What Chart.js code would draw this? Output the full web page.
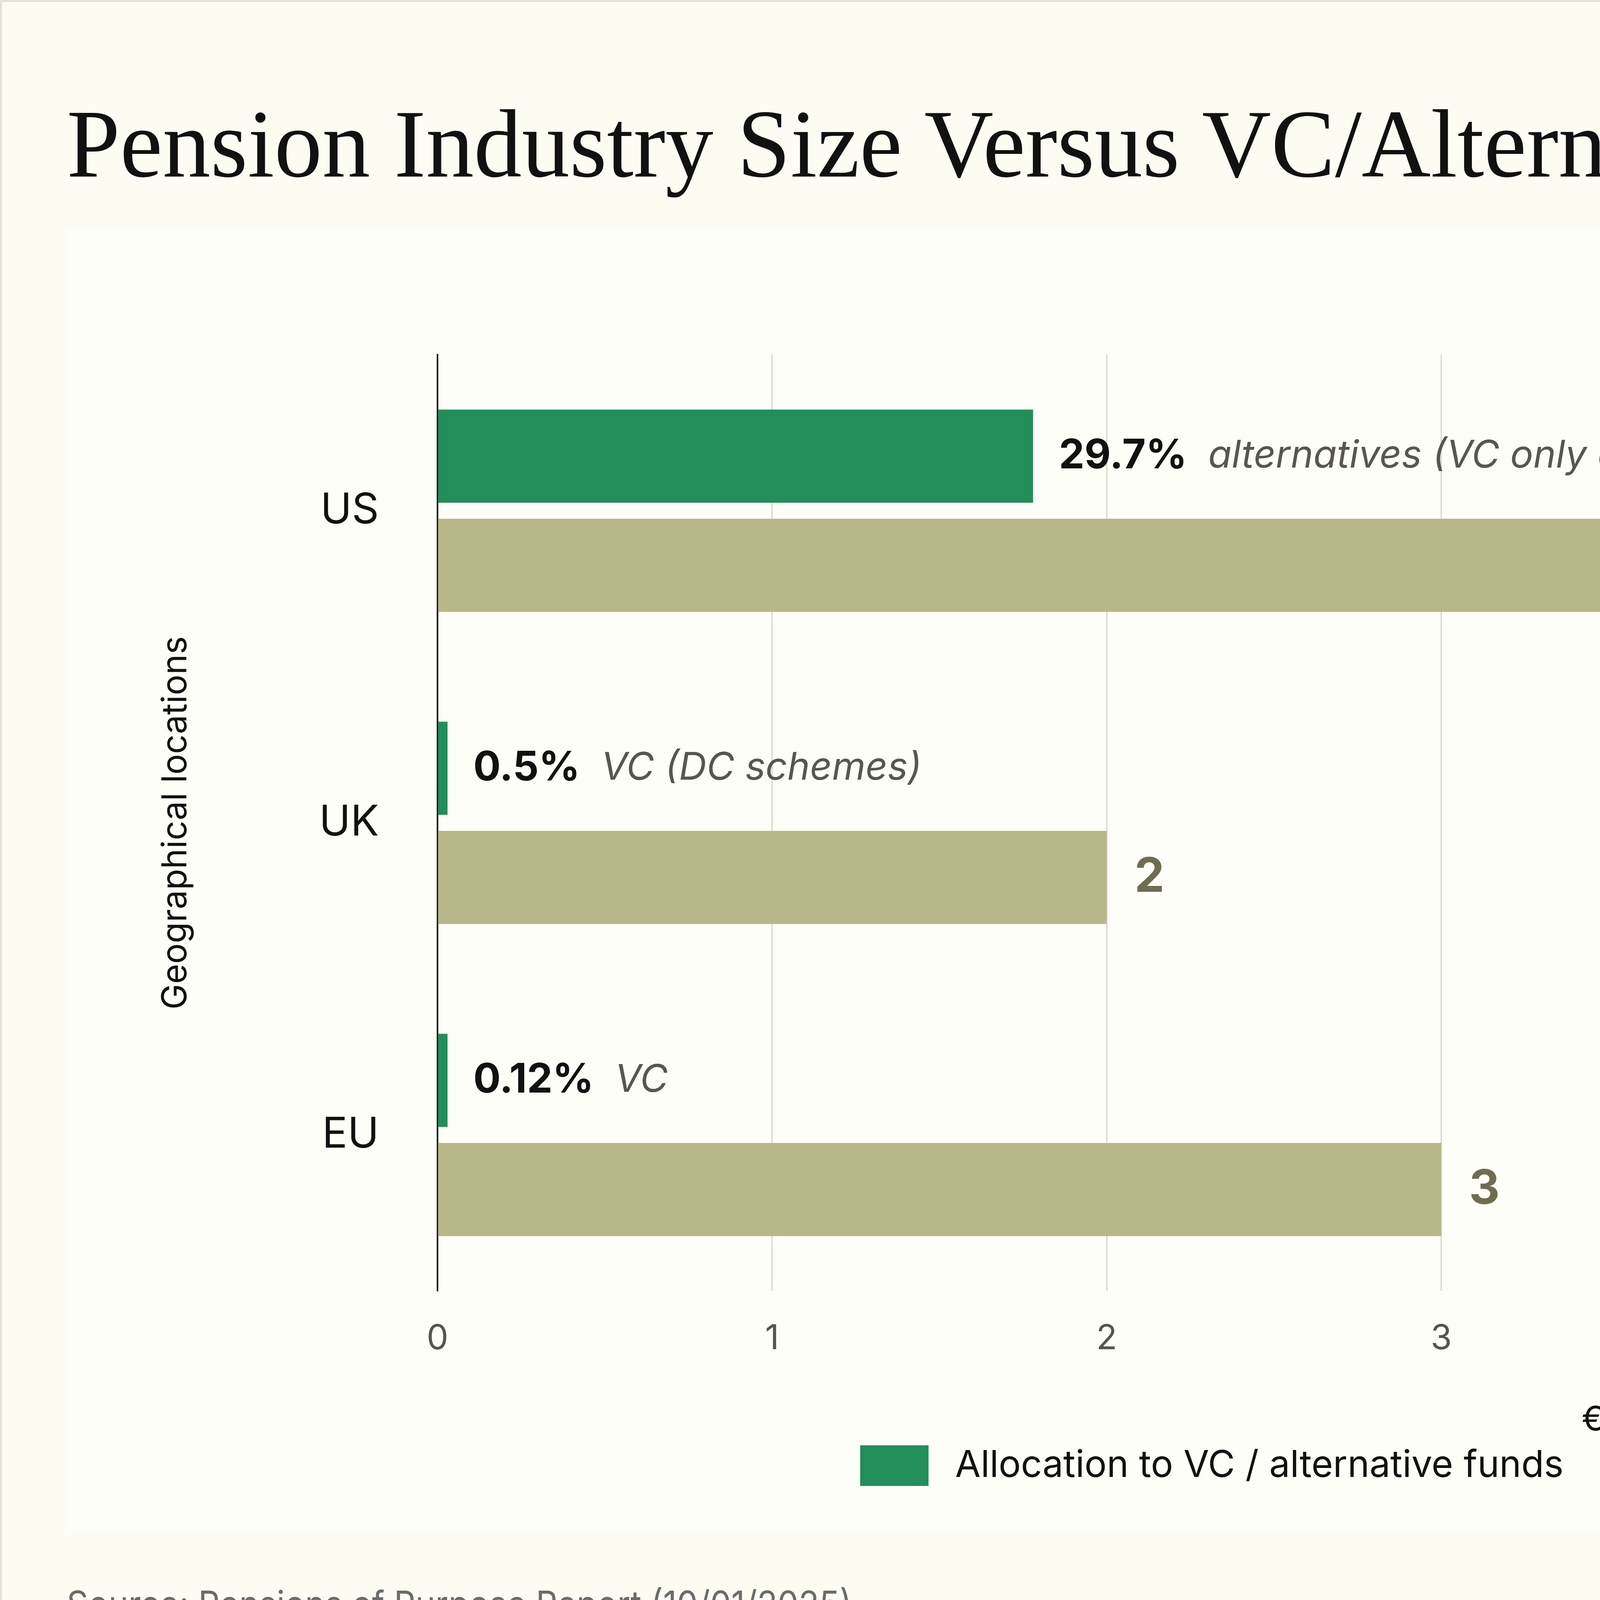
<!DOCTYPE html>
<html>
<head>
<meta charset="utf-8">
<script src="https://cdn.jsdelivr.net/npm/chart.js@4.4.1/dist/chart.umd.min.js"></script>
<style>
  html, body { margin: 0; padding: 0; background: #FCFCF3; }
  #wrap { position: relative; width: 7680px; height: 4320px; overflow: hidden; background: #FCFCF3; }
  #panel { position: absolute; left: 171px; top: 585px; width: 7353px; height: 3333px; background: #FEFEF8; }
  #frame { position: absolute; left: 0; top: 0; width: 7680px; height: 4320px; box-sizing: border-box; border: 5px solid #E3E3D8; pointer-events: none; }
  canvas { position: absolute; left: 0; top: 0; }
  .txt { position: absolute; top: 0; white-space: nowrap; line-height: 1; transform-origin: 0 0; }
  .bl { display: inline-block; width: 0; height: 0; }
  #title { left: 171px; font-family: 'Liberation Serif', serif; font-size: 248px; color: #111; }
  #source { left: 171px; font-family: 'Inter', sans-serif; font-size: 94px; color: #6B6B6B; }
  #brand { left: 7118px; font-family: 'Liberation Serif', serif; font-size: 160px; color: #111; }
</style>
</head>
<body>
<div id="wrap">
  <div id="panel"></div>
  <canvas id="chart" width="7680" height="4320"></canvas>
  <div id="title" class="txt">Pension Industry Size Versus VC/Alternative Allocation<span class="bl"></span></div>
  <div id="source" class="txt">Source: Pensions of Purpose Report (10/01/2025)<span class="bl"></span></div>
  <div id="brand" class="txt">Murph<span class="bl"></span></div>
  <div id="frame"></div>
</div>
<script>
// ---- data ----
const categories = ['US', 'UK', 'EU'];
const seriesNames = ['Allocation to VC / alternative funds', 'Market size'];
const allocationValues = [1.78, 0.03, 0.03];
const marketSizeValues = [6, 2, 3];
const allocationShares = ['29.7%', '0.5%', '0.12%'];
const allocationNotes = ['alternatives (VC only a proportion of this total)', 'VC (DC schemes)', 'VC'];
const marketLabels = ['6', '2', '3'];
const xTickValues = [0, 1, 2, 3, 4, 5, 6, 7];
const xAxisTitle = '€tn';
const yAxisTitle = 'Geographical locations';

const GREEN = '#228E5A';
const OLIVE = '#B8B78A';

function placeText(id, baseline, targetWidth) {
  const el = document.getElementById(id);
  const mark = el.querySelector('.bl');
  const r0 = el.getBoundingClientRect();
  const rb = mark.getBoundingClientRect();
  const off = rb.top - r0.top;
  el.style.top = (baseline - off) + 'px';
  if (targetWidth) {
    const w = el.scrollWidth;
    el.style.transform = 'scaleX(' + (targetWidth / w) + ')';
  }
}

const labelsPlugin = {
  id: 'barLabels',
  afterDatasetsDraw(chart) {
    const ctx = chart.ctx;
    const m0 = chart.getDatasetMeta(0);
    const m1 = chart.getDatasetMeta(1);
    ctx.save();
    ctx.textBaseline = 'middle';
    ctx.textAlign = 'left';
    m0.data.forEach((bar, i) => {
      let x = bar.x + 66;
      ctx.font = '700 104px Inter';
      ctx.fillStyle = '#111111';
      ctx.fillText(allocationShares[i], x, bar.y);
      x += ctx.measureText(allocationShares[i]).width + 54;
      ctx.font = 'italic 400 98px Inter';
      ctx.fillStyle = '#57574F';
      ctx.fillText(allocationNotes[i], x, bar.y);
    });
    m1.data.forEach((bar, i) => {
      ctx.font = '700 122px Inter';
      ctx.fillStyle = '#6E6D51';
      ctx.fillText(marketLabels[i], bar.x + 71, bar.y);
    });
    ctx.restore();
  }
};

const legendPlugin = {
  id: 'customLegend',
  afterDraw(chart) {
    const ctx = chart.ctx;
    const items = chart.data.datasets.map(d => ({ text: d.label, color: d.backgroundColor }));
    const boxW = 175, boxH = 104, textGap = 68, itemGap = 653;
    ctx.save();
    ctx.font = '400 95px Inter';
    const widths = items.map(it => boxW + textGap + ctx.measureText(it.text).width);
    const total = widths.reduce((a, b) => a + b, 0) + itemGap * (items.length - 1);
    let x = chart.width / 2 - total / 2 - 30;
    const cy = chart.scales.x.bottom + 64;
    ctx.textBaseline = 'middle';
    ctx.textAlign = 'left';
    items.forEach((it, i) => {
      ctx.fillStyle = it.color;
      ctx.fillRect(x, cy - boxH / 2, boxW, boxH);
      ctx.fillStyle = '#111111';
      ctx.fillText(it.text, x + boxW + textGap, cy);
      x += widths[i] + itemGap;
    });
    ctx.restore();
  }
};

function build() {
  placeText('title', 452, 5500);
  placeText('source', 4140, 2010);
  placeText('brand', 4155, 406);

  const ctx = document.getElementById('chart').getContext('2d');
  new Chart(ctx, {
    type: 'bar',
    data: {
      labels: categories,
      datasets: [
        { label: seriesNames[0], data: allocationValues, backgroundColor: GREEN, categoryPercentage: 0.70, barPercentage: 0.853 },
        { label: seriesNames[1], data: marketSizeValues, backgroundColor: OLIVE, categoryPercentage: 0.70, barPercentage: 0.853 }
      ]
    },
    options: {
      indexAxis: 'y',
      responsive: false,
      animation: false,
      devicePixelRatio: 1,
      layout: { padding: { top: 908, right: 564, bottom: 632, left: 0 } },
      plugins: { legend: { display: false }, tooltip: { enabled: false }, title: { display: false } },
      scales: {
        x: {
          min: 0, max: 7,
          afterBuildTicks: s => { s.ticks = xTickValues.map(v => ({ value: v })); },
          ticks: { padding: 70, color: '#55554F', font: { family: 'Inter', size: 88 } },
          grid: { color: c => (c.tick && c.tick.value === 0) ? 'rgba(0,0,0,0)' : '#D5D5C9', lineWidth: 3, drawTicks: false },
          border: { display: false },
          title: { display: true, text: xAxisTitle, color: '#111111', font: { family: 'Inter', size: 87 }, padding: { top: 0, bottom: 0 } },
          afterFit: s => { s.height = 383; }
        },
        y: {
          ticks: { padding: 150, color: '#111111', font: { family: 'Inter', size: 108 } },
          grid: { display: false, drawTicks: false },
          border: { display: true, color: '#161616', width: 4 },
          title: { display: true, text: yAxisTitle, color: '#111111', font: { family: 'Inter', size: 88 }, padding: { top: 398, bottom: 0 } },
          afterFit: s => { s.width = 1120; }
        }
      }
    },
    plugins: [labelsPlugin, legendPlugin]
  });
}

if (document.fonts && document.fonts.ready) {
  Promise.all([
    document.fonts.load('400 88px Inter'),
    document.fonts.load('700 104px Inter'),
    document.fonts.load('italic 400 98px Inter'),
    document.fonts.load('248px "Liberation Serif"')
  ]).catch(() => {}).then(() => document.fonts.ready).then(build);
} else {
  build();
}
</script>
</body>
</html>
